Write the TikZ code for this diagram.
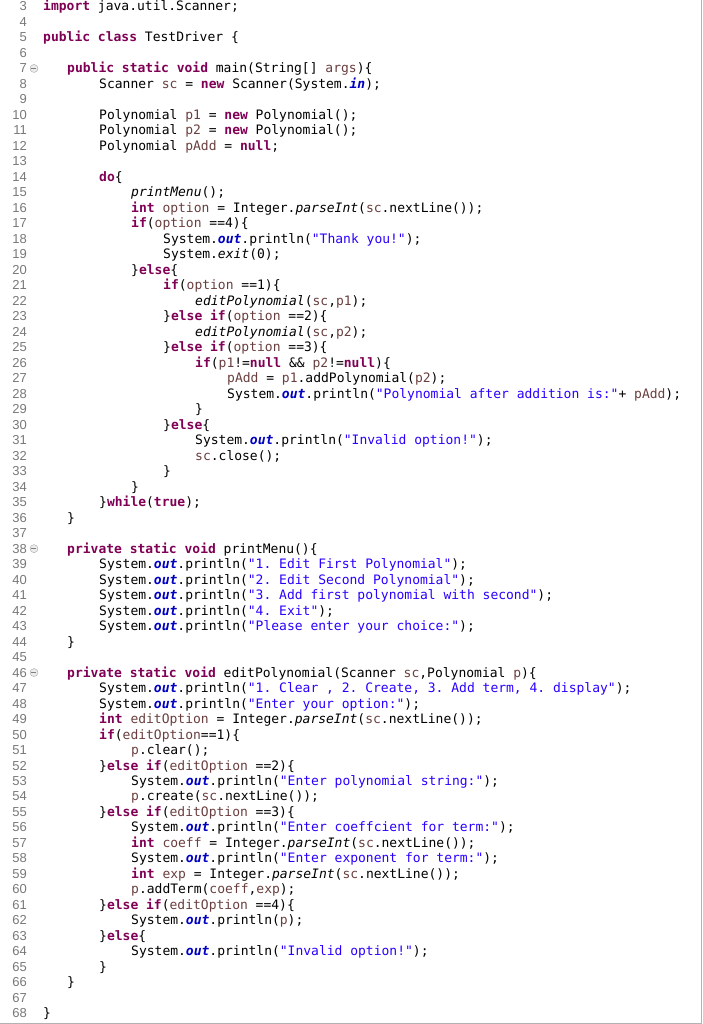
\documentclass[tikz,border=0pt]{standalone}
\usepackage{fontspec}
\setmonofont{DejaVu Sans Mono}
\setsansfont{Liberation Sans}
\definecolor{kw}{HTML}{7F0055}
\definecolor{str}{HTML}{2A00FF}
\definecolor{fld}{HTML}{0000C0}
\definecolor{var}{HTML}{6A3E3E}
\definecolor{num}{HTML}{787878}
\newcommand\kw[1]{{\bfseries\color{kw}#1}}
\newcommand\st[1]{{\color{str}#1}}
\newcommand\fld[1]{{\bfseries\itshape\color{fld}#1}}
\newcommand\va[1]{{\color{var}#1}}
\newcommand\sm[1]{{\itshape #1}}
\newcommand\OUT{System.\fld{out}.println}
\tikzset{code/.style={anchor=base west,inner sep=0pt,font=\ttfamily\fontsize{13}{13}\selectfont},
 lnum/.style={anchor=base east,inner sep=0pt,text=num,font=\sffamily\fontsize{13}{13}\selectfont},
 fold/.style={circle,draw=gray!70,fill=gray!15,minimum size=8pt,inner sep=0pt}}
\newcommand\Ln[3]{\node[code] (c#1) at (#2,{11+(#1-3)*15.49}) {#3};}
\begin{document}
\begin{tikzpicture}[x=1pt,y=-1pt]
\useasboundingbox (0,0) rectangle (703,1024);
\draw[gray!60] (701,0) -- (701,1023) -- (0,1023);
\foreach \n in {3,...,68}{\node[lnum] (n\n) at (27,{11+(\n-3)*15.49}) {\n};}
\foreach \n in {7,38,46}{\node[fold] (f\n) at (34,{6.5+(\n-3)*15.49}) {}; \draw[gray] (f\n.west)++(1.5,0) -- ++(5,0);}
\Ln{3}{43}{\kw{import} java.util.Scanner;}
\Ln{5}{43}{\kw{public} \kw{class} TestDriver \{}
\Ln{7}{67}{\kw{public} \kw{static} \kw{void} main(String[] \va{args})\{}
\Ln{8}{99}{Scanner \va{sc} = \kw{new} Scanner(System.\fld{in});}
\Ln{10}{99}{Polynomial \va{p1} = \kw{new} Polynomial();}
\Ln{11}{99}{Polynomial \va{p2} = \kw{new} Polynomial();}
\Ln{12}{99}{Polynomial \va{pAdd} = \kw{null};}
\Ln{14}{99}{\kw{do}\{}
\Ln{15}{131}{\sm{printMenu}();}
\Ln{16}{131}{\kw{int} \va{option} = Integer.\sm{parseInt}(\va{sc}.nextLine());}
\Ln{17}{131}{\kw{if}(\va{option} ==4)\{}
\Ln{18}{163}{\OUT(\st{"Thank you!"});}
\Ln{19}{163}{System.\sm{exit}(0);}
\Ln{20}{131}{\}\kw{else}\{}
\Ln{21}{163}{\kw{if}(\va{option} ==1)\{}
\Ln{22}{195}{\sm{editPolynomial}(\va{sc},\va{p1});}
\Ln{23}{163}{\}\kw{else} \kw{if}(\va{option} ==2)\{}
\Ln{24}{195}{\sm{editPolynomial}(\va{sc},\va{p2});}
\Ln{25}{163}{\}\kw{else} \kw{if}(\va{option} ==3)\{}
\Ln{26}{195}{\kw{if}(\va{p1}!=\kw{null} \&\& \va{p2}!=\kw{null})\{}
\Ln{27}{227}{\va{pAdd} = \va{p1}.addPolynomial(\va{p2});}
\Ln{28}{227}{\OUT(\st{"Polynomial after addition is:"}+ \va{pAdd});}
\Ln{29}{195}{\}}
\Ln{30}{163}{\}\kw{else}\{}
\Ln{31}{195}{\OUT(\st{"Invalid option!"});}
\Ln{32}{195}{\va{sc}.close();}
\Ln{33}{163}{\}}
\Ln{34}{131}{\}}
\Ln{35}{99}{\}\kw{while}(\kw{true});}
\Ln{36}{67}{\}}
\Ln{38}{67}{\kw{private} \kw{static} \kw{void} printMenu()\{}
\Ln{39}{99}{\OUT(\st{"1. Edit First Polynomial"});}
\Ln{40}{99}{\OUT(\st{"2. Edit Second Polynomial"});}
\Ln{41}{99}{\OUT(\st{"3. Add first polynomial with second"});}
\Ln{42}{99}{\OUT(\st{"4. Exit"});}
\Ln{43}{99}{\OUT(\st{"Please enter your choice:"});}
\Ln{44}{67}{\}}
\Ln{46}{67}{\kw{private} \kw{static} \kw{void} editPolynomial(Scanner \va{sc},Polynomial \va{p})\{}
\Ln{47}{99}{\OUT(\st{"1. Clear , 2. Create, 3. Add term, 4. display"});}
\Ln{48}{99}{\OUT(\st{"Enter your option:"});}
\Ln{49}{99}{\kw{int} \va{editOption} = Integer.\sm{parseInt}(\va{sc}.nextLine());}
\Ln{50}{99}{\kw{if}(\va{editOption}==1)\{}
\Ln{51}{131}{\va{p}.clear();}
\Ln{52}{99}{\}\kw{else} \kw{if}(\va{editOption} ==2)\{}
\Ln{53}{131}{\OUT(\st{"Enter polynomial string:"});}
\Ln{54}{131}{\va{p}.create(\va{sc}.nextLine());}
\Ln{55}{99}{\}\kw{else} \kw{if}(\va{editOption} ==3)\{}
\Ln{56}{131}{\OUT(\st{"Enter coeffcient for term:"});}
\Ln{57}{131}{\kw{int} \va{coeff} = Integer.\sm{parseInt}(\va{sc}.nextLine());}
\Ln{58}{131}{\OUT(\st{"Enter exponent for term:"});}
\Ln{59}{131}{\kw{int} \va{exp} = Integer.\sm{parseInt}(\va{sc}.nextLine());}
\Ln{60}{131}{\va{p}.addTerm(\va{coeff},\va{exp});}
\Ln{61}{99}{\}\kw{else} \kw{if}(\va{editOption} ==4)\{}
\Ln{62}{131}{\OUT(\va{p});}
\Ln{63}{99}{\}\kw{else}\{}
\Ln{64}{131}{\OUT(\st{"Invalid option!"});}
\Ln{65}{99}{\}}
\Ln{66}{67}{\}}
\Ln{68}{43}{\}}
\end{tikzpicture}
\end{document}
